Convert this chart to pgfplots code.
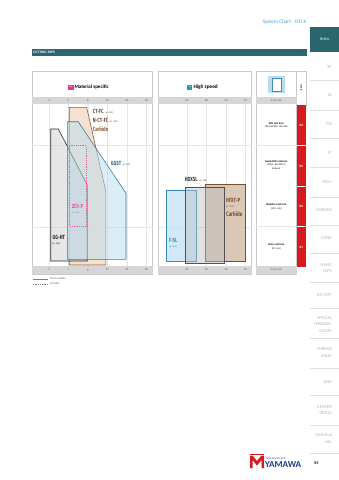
\documentclass[border=0pt]{standalone}
\usepackage{fontspec}
\setmainfont{Carlito}
\newfontfamily\condfont[FakeStretch=0.72]{Fira Sans}
\usepackage{pgfplots}
\pgfplotsset{compat=1.18}
\definecolor{tealbar}{HTML}{2B666E}
\definecolor{hdrblue}{HTML}{4AA3C6}
\definecolor{panelgray}{HTML}{C9C9C9}
\definecolor{bargray}{HTML}{D6D6D6}
\definecolor{gridgray}{HTML}{E6E6E6}
\definecolor{navgray}{HTML}{B5B5B5}
\definecolor{kred}{HTML}{D71920}
\definecolor{ctfcfill}{HTML}{F4DCC7}
\definecolor{ctfcdraw}{HTML}{8C5A3A}
\definecolor{gghtfill}{HTML}{D4D6D8}
\definecolor{gghtdraw}{HTML}{2B2B2B}
\definecolor{ggstfill}{HTML}{B9DCEE}
\definecolor{ggstdraw}{HTML}{2F7E9E}
\definecolor{zexp}{HTML}{E2619F}
\definecolor{fslfill}{HTML}{C6E3F3}
\definecolor{fsldraw}{HTML}{3C8DBF}
\definecolor{hdxfill}{HTML}{B9BEC3}
\definecolor{hdxdraw}{HTML}{4D5359}
\definecolor{hfxfill}{HTML}{D6BFAB}
\definecolor{hfxdraw}{HTML}{7A4E30}
\definecolor{msmag}{HTML}{E2398E}
\definecolor{hsteal}{HTML}{2A9A9E}
\definecolor{yblue}{HTML}{1D3F8F}
\newcommand\fs[1]{\fontsize{#1}{#1}\selectfont}
\newcommand\cf{\condfont\bfseries}
\begin{document}
\begin{tikzpicture}
\begin{scope}[x=1pt,y=1pt]
\path[use as bounding box] (0,0) rectangle (339,-480);
\fill[white] (0,0) rectangle (339,-480);
% header
\node[anchor=east,text=hdrblue,font=\fs{5.3},inner sep=0] at (306.5,-22) {System Chart - ISO K};
\fill[tealbar] (310,-27) rectangle (339,-52);
\node[text=white,font=\fs{4.5}] at (324.5,-39.5) {Intro};
\fill[tealbar] (32,-49) rectangle (306.5,-55.7);
\node[anchor=west,text=white,font=\bfseries\fs{3.6},inner sep=0] at (33,-52.4) {CUTTING TAPS};
% panels
\draw[panelgray,line width=0.5pt] (32.3,-71.7) rectangle (152.7,-274);
\draw[panelgray,line width=0.5pt] (158,-71.7) rectangle (251.7,-274);
\draw[panelgray,line width=0.5pt] (256,-71.7) rectangle (296.6,-274);
\draw[panelgray,line width=0.5pt] (296.6,-71.7) rectangle (306,-105);
\fill[bargray] (32.3,-97) rectangle (152.7,-104);
\fill[bargray] (32.3,-266) rectangle (152.7,-274);
\fill[bargray] (158,-97) rectangle (251.7,-104);
\fill[bargray] (158,-266) rectangle (251.7,-274);
\fill[bargray] (256,-97) rectangle (296.6,-104);
\fill[bargray] (256,-266) rectangle (296.6,-274);
% panel titles
\fill[msmag] (68.3,-84.5) rectangle (73.5,-89.7);
\node[text=white,font=\bfseries\fs{1.8},inner sep=0] at (70.9,-87.1) {MS};
\node[anchor=west,font=\bfseries\fs{5},inner sep=0] at (74.3,-87.1) {Material specific};
\fill[hsteal] (187.2,-84.5) rectangle (192.4,-89.7);
\node[text=white,font=\bfseries\fs{1.8},inner sep=0] at (189.8,-87.1) {HS};
\node[anchor=west,font=\bfseries\fs{5.3},inner sep=0] at (193.3,-87.1) {High speed};
% tap icon
\fill[ggstfill] (268,-76) rectangle (285,-93);
\fill[white] (272,-78) rectangle (281,-91);
\draw[fsldraw,line width=0.3pt] (272,-78) rectangle (281,-91);
\node[font=\fs{2.8},rotate=-90,inner sep=0] at (301.3,-88) {HSS-E};
% right panel
\node[font=\fs{2.8},text=black!60,inner sep=0] at (276.3,-100.5) {Vc(m/min)};
\node[font=\fs{2.8},text=black!60,inner sep=0] at (276.3,-270) {Vc(m/min)};
\draw[gridgray,line width=0.5pt] (256,-145) -- (296.6,-145);
\draw[gridgray,line width=0.5pt] (256,-226.7) -- (296.6,-226.7);
\fill[kred] (296.7,-105) rectangle (306,-267);
\draw[white,line width=0.5pt] (296.7,-145) -- (306,-145);
\draw[white,line width=0.5pt] (296.7,-186.7) -- (306,-186.7);
\draw[white,line width=0.5pt] (296.7,-226.7) -- (306,-226.7);
\node[text=white,font=\bfseries\fs{3.4},inner sep=0] at (301.3,-125) {K4};
\node[text=white,font=\bfseries\fs{3.4},inner sep=0] at (301.3,-166) {K3};
\node[text=white,font=\bfseries\fs{3.4},inner sep=0] at (301.3,-206.7) {K2};
\node[text=white,font=\bfseries\fs{3.4},inner sep=0] at (301.3,-247) {K1};
\node[font=\bfseries\fs{2.8},inner sep=0] at (276.3,-123.3) {ADI cast iron};
\node[font=\fs{2.4},inner sep=0] at (276.3,-127) {(JIS FCAD900 - ADI 900)};
\node[font=\bfseries\fs{2.8},inner sep=0] at (276.3,-161.7) {Austenitic cast iron};
\node[font=\fs{2.4},inner sep=0] at (276.3,-165.2) {(FCDA - NiCr20Cr2)};
\node[font=\fs{2.4},inner sep=0] at (276.3,-168.6) {Ni-Resist};
\node[font=\bfseries\fs{2.8},inner sep=0] at (276.3,-205) {Nodular cast iron};
\node[font=\fs{2.4},inner sep=0] at (276.3,-208.6) {(FCD - GJS)};
\node[font=\bfseries\fs{2.8},inner sep=0] at (276.3,-245) {Grey cast iron};
\node[font=\fs{2.4},inner sep=0] at (276.3,-248.6) {(FC - GJL)};
% legend
\draw[black!50,line width=0.4pt] (32.7,-279) -- (48,-279);
\draw[black!50,line width=0.4pt,dash pattern=on 1pt off 0.8pt] (32.7,-284) -- (48,-284);
\node[anchor=west,font=\fs{2.8},text=black!60,inner sep=0] at (50,-279) {Most suitable};
\node[anchor=west,font=\fs{2.8},text=black!60,inner sep=0] at (50,-284) {Suitable};
% navigation
\foreach \yy in {80,110,138,166.7,196.7,225,252.7,281.7,308,338,368,395,425,453.3}
  {\draw[black!12,line width=0.4pt] (310,-\yy) -- (339,-\yy);}
\begin{scope}[every node/.style={anchor=east,inner sep=0,text=navgray,font=\fs{4.5},align=right}]
\node at (332,-66.7) {SP};
\node at (332,-95) {SL};
\node at (332,-124) {PO};
\node at (332,-152.7) {ST};
\node at (332,-181.7) {ROLL};
\node at (332,-210) {CARBIDE};
\node at (332,-238) {LONG};
\node at (332,-265) {HAND};
\node at (332,-270.7) {TAPS};
\node at (332,-295) {BG (STI)};
\node at (332,-318) {SPECIAL};
\node at (332,-324.5) {THREADS,};
\node at (332,-331) {GAGES};
\node at (332,-349) {THREAD};
\node at (332,-356) {MILLS};
\node at (332,-381.7) {DIES};
\node at (332,-406.7) {CENTER};
\node at (332,-413.3) {DRILLS};
\node at (332,-435) {Technical};
\node at (332,-441.7) {Info};
\end{scope}
% logo
\fill[kred] (250,-455.5) -- (252.5,-455.5) -- (257,-461) -- (261.5,-455.5) -- (264,-455.5) -- (264,-468) -- (261.5,-468) -- (261.5,-460) -- (257,-465.5) -- (252.5,-460) -- (252.5,-468) -- (250,-468) -- cycle;
\fill[kred] (250,-453.8) rectangle (264,-454.8);
\node[anchor=west,inner sep=0,font=\fs{2.6},text=yblue] at (265.5,-458.3) {Think threads with};
\node[anchor=west,inner sep=0,font=\bfseries\fs{9.2},text=yblue] at (264.8,-464.8) {YAMAWA};
\node[anchor=west,inner sep=0,font=\bfseries\fs{4.2}] at (314,-463.3) {55};
\end{scope}
% left axis
\begin{axis}[at={(32.3pt,-266pt)},anchor=south west,scale only axis,
  width=120.4pt,height=162pt,xmin=-0.856,xmax=5.318,ymin=0,ymax=162,
  clip=false,axis line style={draw=none},major tick length=0pt,
  xtick={0,1,2,3,4,5},ytick={39.3,121},xticklabels={},yticklabels={},
  grid=major,major grid style={draw=gridgray,line width=0.4pt}]
\addplot[draw=ctfcdraw,fill=ctfcfill,fill opacity=0.85,line width=0.6pt]
  coordinates {(1.04,158.7) (1.93,158.7) (2.92,74.3) (2.92,1) (1.04,1)} -- cycle;
\addplot[draw=gghtdraw,fill=gghtfill,fill opacity=0.6,line width=0.6pt]
  coordinates {(0.09,137) (0.48,137) (1.96,81) (1.96,5) (0.09,5)} -- cycle;
\addplot[draw=ggstdraw,fill=ggstfill,fill opacity=0.5,line width=0.6pt]
  coordinates {(0.94,144.3) (1.5,144.3) (3.95,72.7) (3.95,6.7) (0.94,6.7)} -- cycle;
\addplot[draw=zexp,line width=0.5pt,dash pattern=on 1.2pt off 1pt]
  coordinates {(1.04,120.3) (1.9,120.3) (1.9,40) (1.04,40)} -- cycle;
\node[anchor=west,inner sep=0,text=ctfcdraw!80!black] at (axis cs:2.24,154) {{\cf\fs{6}CT-FC}\,{\fs{2.4}(p. 400)}};
\node[anchor=west,inner sep=0,text=ctfcdraw!80!black] at (axis cs:2.24,145.5) {{\cf\fs{6}N-CT-FC}\,{\fs{2.4}(p. 409)}};
\node[anchor=west,inner sep=0,text=ctfcdraw] at (axis cs:2.24,137) {\cf\fs{6}Carbide};
\node[anchor=west,inner sep=0,text=ggstdraw!80!black] at (axis cs:3.16,102.7) {{\cf\fs{6}GGST}\,{\fs{2.4}(p. 390)}};
\node[anchor=west,inner sep=0,text=zexp] at (axis cs:1.16,60) {\cf\fs{6}ZEX-P};
\node[anchor=west,inner sep=0,text=zexp] at (axis cs:1.16,53.5) {\fs{2.4}(p. 284)};
\node[anchor=west,inner sep=0,text=gghtdraw] at (axis cs:0.17,28.7) {\cf\fs{6}GG-HT};
\node[anchor=west,inner sep=0,text=gghtdraw] at (axis cs:0.17,22.5) {\fs{2.4}(p. 266)};
\node[font=\fs{3},text=black!60,inner sep=0] at (axis cs:0,165.5) {3};
\node[font=\fs{3},text=black!60,inner sep=0] at (axis cs:1,165.5) {5};
\node[font=\fs{3},text=black!60,inner sep=0] at (axis cs:2,165.5) {8};
\node[font=\fs{3},text=black!60,inner sep=0] at (axis cs:3,165.5) {12};
\node[font=\fs{3},text=black!60,inner sep=0] at (axis cs:4,165.5) {20};
\node[font=\fs{3},text=black!60,inner sep=0] at (axis cs:5,165.5) {30};
\node[font=\fs{3},text=black!60,inner sep=0] at (axis cs:0,-4) {3};
\node[font=\fs{3},text=black!60,inner sep=0] at (axis cs:1,-4) {5};
\node[font=\fs{3},text=black!60,inner sep=0] at (axis cs:2,-4) {8};
\node[font=\fs{3},text=black!60,inner sep=0] at (axis cs:3,-4) {12};
\node[font=\fs{3},text=black!60,inner sep=0] at (axis cs:4,-4) {20};
\node[font=\fs{3},text=black!60,inner sep=0] at (axis cs:5,-4) {30};
\end{axis}
% middle axis
\begin{axis}[at={(158pt,-266pt)},anchor=south west,scale only axis,
  width=93.7pt,height=162pt,xmin=-1.487,xmax=3.318,ymin=0,ymax=162,
  clip=false,axis line style={draw=none},major tick length=0pt,
  xtick={0,1,2,3},ytick={39.3,121},xticklabels={},yticklabels={},
  grid=major,major grid style={draw=gridgray,line width=0.4pt}]
\addplot[draw=fsldraw,fill=fslfill,fill opacity=0.8,line width=0.6pt]
  coordinates {(-1.08,4.3) (0.49,4.3) (0.49,76) (-1.08,76)} -- cycle;
\addplot[draw=hfxdraw,fill=hfxfill,fill opacity=0.85,line width=0.6pt]
  coordinates {(0.94,4.3) (2.97,4.3) (2.97,82) (0.94,82)} -- cycle;
\addplot[draw=hdxdraw,fill=hdxfill,fill opacity=0.45,line width=0.6pt]
  coordinates {(-0.07,2.7) (1.9,2.7) (1.9,78.7) (-0.07,78.7)} -- cycle;
\node[anchor=west,inner sep=0,text=hdxdraw!70!black] at (axis cs:-0.12,86) {{\cf\fs{6}HDXSL}\,{\fs{2.4}(p. 391)}};
\node[anchor=west,inner sep=0,text=hfxdraw] at (axis cs:2.0,66) {\cf\fs{6}HFXT-P};
\node[anchor=west,inner sep=0,text=hfxdraw] at (axis cs:2.0,59.3) {\fs{2.4}(p. 429)};
\node[anchor=west,inner sep=0,text=hfxdraw] at (axis cs:2.0,52) {\cf\fs{6.3}Carbide};
\node[anchor=west,inner sep=0,text=fsldraw] at (axis cs:-0.93,26) {\cf\fs{6}F-SL};
\node[anchor=west,inner sep=0,text=fsldraw] at (axis cs:-0.93,19.3) {\fs{2.4}(p. 366)};
\node[font=\fs{3},text=black!60,inner sep=0] at (axis cs:0,165.5) {20};
\node[font=\fs{3},text=black!60,inner sep=0] at (axis cs:1,165.5) {30};
\node[font=\fs{3},text=black!60,inner sep=0] at (axis cs:2,165.5) {40};
\node[font=\fs{3},text=black!60,inner sep=0] at (axis cs:3,165.5) {50};
\node[font=\fs{3},text=black!60,inner sep=0] at (axis cs:0,-4) {20};
\node[font=\fs{3},text=black!60,inner sep=0] at (axis cs:1,-4) {30};
\node[font=\fs{3},text=black!60,inner sep=0] at (axis cs:2,-4) {40};
\node[font=\fs{3},text=black!60,inner sep=0] at (axis cs:3,-4) {50};
\end{axis}
\end{tikzpicture}
\end{document}
